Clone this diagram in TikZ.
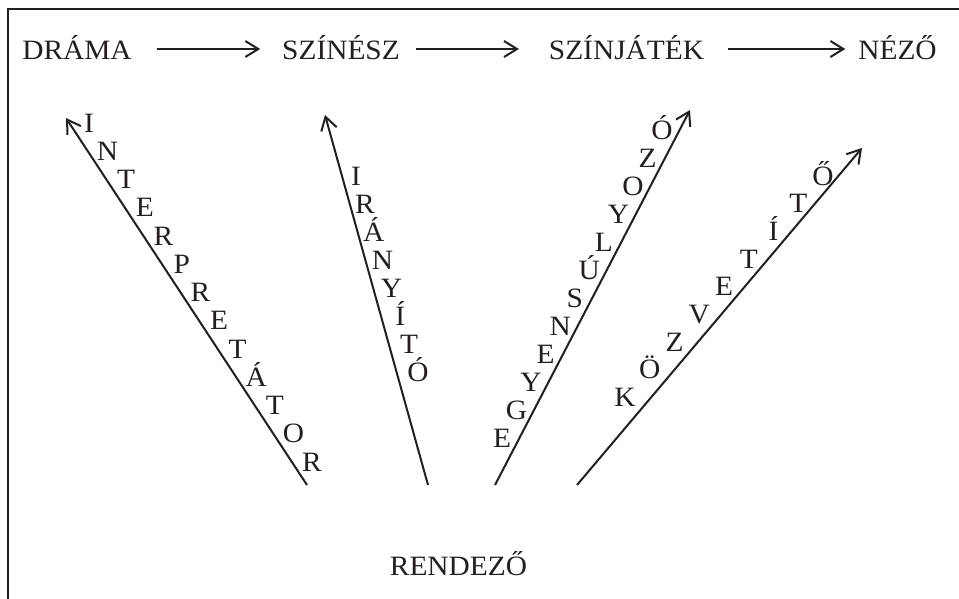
\documentclass[tikz,border=0pt]{standalone}
\usepackage{fontspec}
\setmainfont{Liberation Serif}[FakeStretch=1.05]
\usetikzlibrary{arrows.meta,calc}
\definecolor{ink}{RGB}{35,31,32}
\begin{document}
\begin{tikzpicture}[x=0.5pt,y=-0.5pt,
  lbl/.style={font=\fontsize{14}{17}\selectfont, inner sep=0pt, outer sep=0pt, text=ink},
  word/.style={lbl, anchor=base},
  letter/.style={lbl, anchor=base},
  arr/.style={draw=ink, line width=1pt, -{Straight Barb[length=6.5pt,width=8pt,line width=1pt]}},
  frame/.style={draw=ink, line width=1.1pt}]
\useasboundingbox (0,0) rectangle (959,599);
% frame
\draw[frame] (959,9) -- (8,9) -- (8,599);
% top row
\node[word] (drama)   at (77,60)    {DRÁMA};
\node[word] (szinesz) at (341,60)   {SZÍNÉSZ};
\node[word] (szinj)   at (626.5,60) {SZÍNJÁTÉK};
\node[word] (nezo)    at (897.5,60) {NÉZŐ};
\node[word] (rendezo) at (458.5,575) {RENDEZŐ};
\draw[arr] ($(drama.base east)+(25,-11)$) -- ($(szinesz.base west)+(-22,-11)$);
\draw[arr] ($(szinesz.base east)+(16,-11)$) -- ($(szinj.base west)+(-30,-11)$);
\draw[arr] ($(szinj.base east)+(24,-11)$) -- ($(nezo.base west)+(-13,-11)$);
% diagonal arrows
\coordinate (s1) at (307,485); \coordinate (e1) at (66,118);
\coordinate (s2) at (428,485); \coordinate (e2) at (325,115);
\coordinate (s3) at (495,485); \coordinate (e3) at (690,110);
\coordinate (s4) at (577,485); \coordinate (e4) at (862,148);
\draw[arr] (s1) -- (e1);
\draw[arr] (s2) -- (e2);
\draw[arr] (s3) -- (e3);
\draw[arr] (s4) -- (e4);
% letters
\foreach \c [count=\i from 0] in {I,N,T,E,R,P,R,E,T,Á,T,O,R}
  \node[letter] (la\i) at ({89+\i*18.58},{123+\i*28.25+9.2}) {\c};
\foreach \c [count=\i from 0] in {I,R,Á,N,Y,Í,T,Ó}
  \node[letter] (lb\i) at ({356+\i*8.86},{176+\i*28+9.2}) {\c};
\foreach \c [count=\i from 0] in {E,G,Y,E,N,S,Ú,L,Y,O,Z,Ó}
  \node[letter] (lc\i) at ({502+\i*14.55},{438-\i*28.0+9.2}) {\c};
\foreach \c [count=\i from 0] in {K,Ö,Z,V,E,T,Í,T,Ő}
  \node[letter] (ld\i) at ({625+\i*24.75},{397-\i*27.6+9.2}) {\c};
\end{tikzpicture}
\end{document}
